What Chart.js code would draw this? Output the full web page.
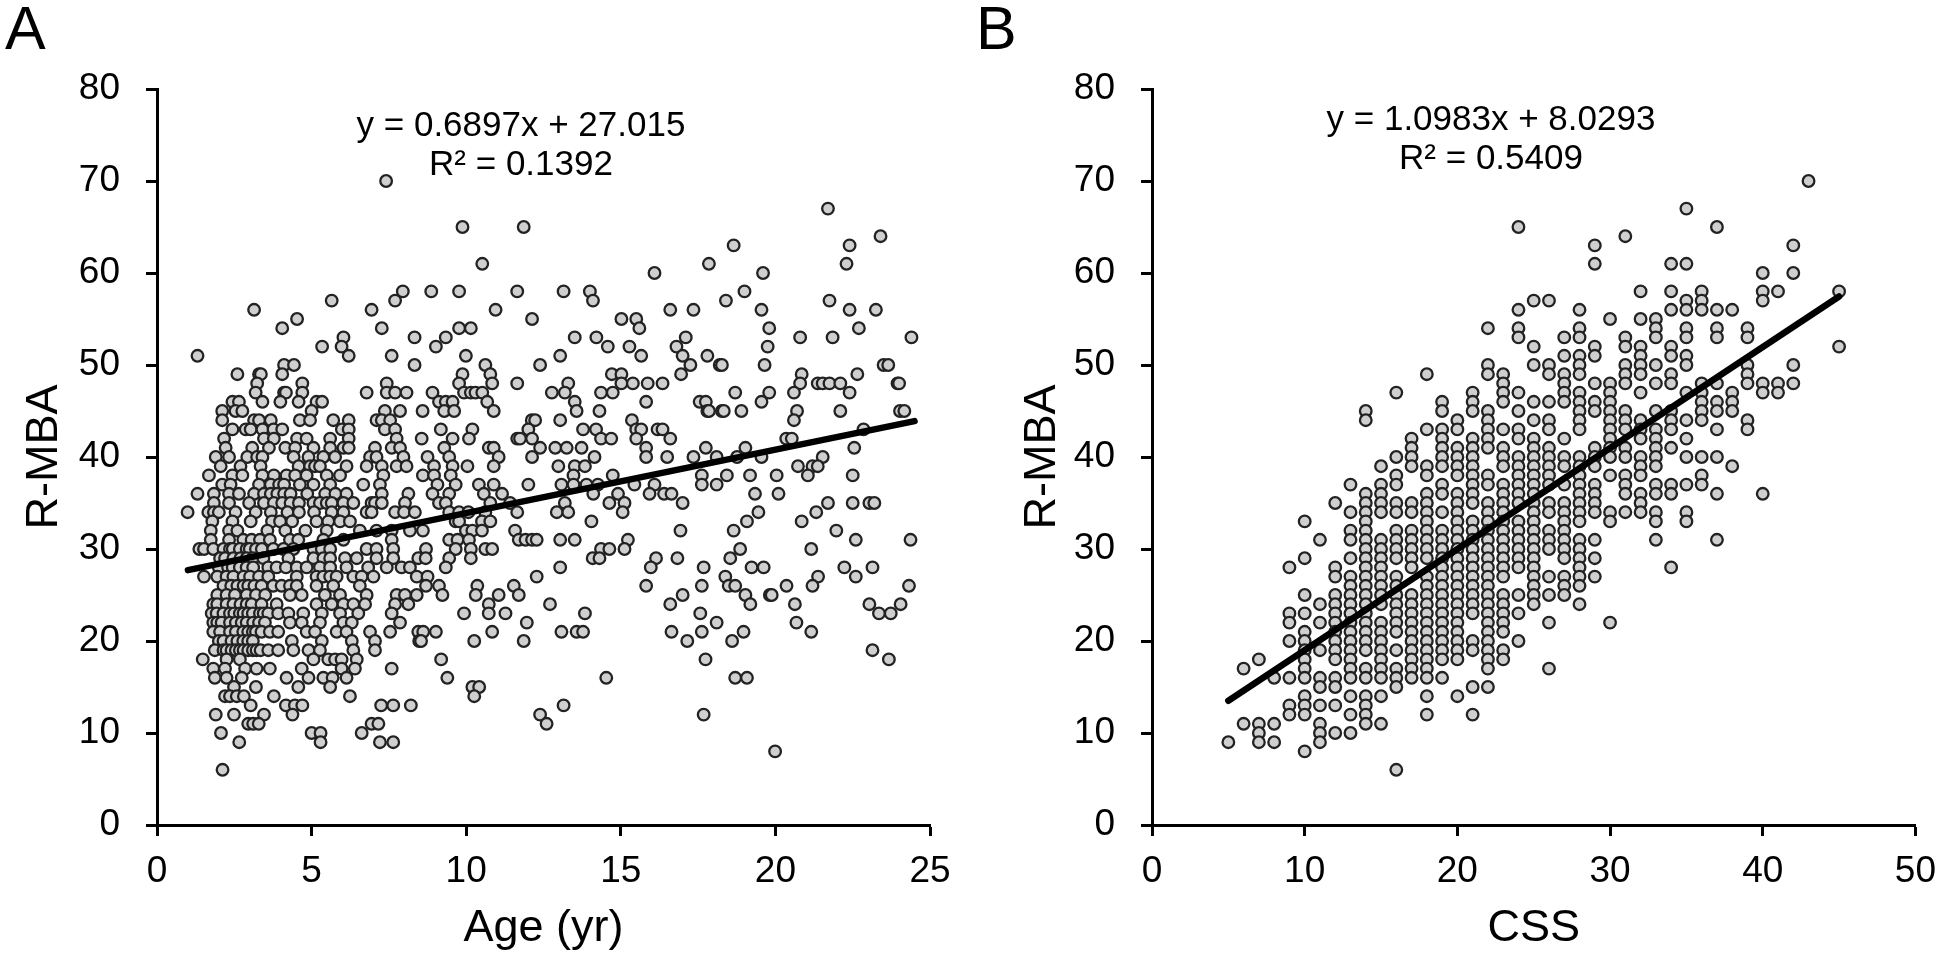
<!DOCTYPE html>
<html lang="en">

<head>
    <meta charset="UTF-8">
    <title>R-MBA scatter plots</title>
    <style>
        body {
            margin: 0;
            background-color: #fff;
            font-family: "Liberation Sans", Arial, sans-serif;
            color: #000;
        }

        .wrap {
            position: relative;
            width: 1950px;
            height: 958px;
            overflow: hidden;
        }

        canvas {
            position: absolute;
            top: 0;
        }

        #chartA { left: 0; }
        #chartB { left: 975px; }

        .panel {
            position: absolute;
            top: -7px;
            font-size: 61px;
            line-height: 70px;
        }

        .eq {
            position: absolute;
            width: 500px;
            text-align: center;
            font-size: 35px;
            line-height: 39px;
        }
    </style>
    <script src="https://cdn.jsdelivr.net/npm/chart.js"></script>
</head>

<body>
    <div class="wrap">
        <canvas id="chartA" width="975" height="958"></canvas>
        <canvas id="chartB" width="975" height="958"></canvas>
        <div class="panel" style="left:5px">A</div>
        <div class="panel" style="left:976px">B</div>
        <div class="eq" style="left:271px;top:104px">y = 0.6897x + 27.015<br>R² = 0.1392</div>
        <div class="eq" style="left:1241px;top:98px">y = 1.0983x + 8.0293<br>R² = 0.5409</div>
    </div>

    <script>
        const xTicksA = [0, 5, 10, 15, 20, 25];
        const xTicksB = [0, 10, 20, 30, 40, 50];
        const yTicks = [0, 10, 20, 30, 40, 50, 60, 70, 80];

        const levelsA = [70, 67, 65, 64, 63, 61, 60, 58, 57, 56, 55, 54, 53, 52, 51, 50, 49, 48, 47, 46, 45, 44, 43, 42, 41, 40, 39, 38, 37, 36, 35, 34, 33, 32, 31, 30, 29, 28, 27, 26, 25, 24, 23, 22, 21, 20, 19, 18, 17, 16, 15, 14, 13, 12, 11, 10, 9, 8, 6];
        const agesA = [
            [7.41],
            [21.7],
            [9.88, 11.86],
            [23.4],
            [18.65, 22.4],
            [10.52, 17.85, 22.3],
            [16.09, 19.6],
            [7.95, 8.87, 9.77, 11.65, 13.15, 14.0, 19.0],
            [5.65, 7.7, 14.1, 18.4, 21.75],
            [3.14, 6.94, 10.95, 16.6, 17.35, 19.55, 22.4, 23.25],
            [4.53, 12.13, 15.02, 15.5],
            [4.05, 7.27, 9.77, 10.15, 15.6, 19.8, 22.7],
            [6.03, 8.33, 9.34, 13.51, 14.21, 17.1, 20.8, 21.85, 24.4],
            [5.34, 5.97, 9.02, 14.58, 15.28, 16.8, 19.75],
            [1.31, 6.2, 7.59, 9.99, 13.04, 15.66, 17.0, 17.8],
            [4.11, 4.43, 8.33, 10.62, 12.39, 17.25, 18.2, 18.27, 19.65, 23.5, 23.65],
            [2.6, 3.3, 3.36, 4.05, 9.88, 10.78, 14.71, 15.02, 16.95, 20.85, 22.65],
            [3.24, 4.7, 7.43, 9.77, 10.84, 11.65, 13.3, 15.02, 15.39, 15.87, 16.35, 20.8, 21.37, 21.53, 21.75, 22.1, 23.95, 24.0],
            [3.19, 4.11, 4.17, 4.7, 6.78, 7.43, 7.7, 8.07, 8.91, 9.93, 10.15, 10.3, 10.52, 12.77, 13.19, 14.36, 14.74, 18.7, 19.8, 20.6, 22.4],
            [2.44, 2.65, 3.41, 3.99, 4.58, 5.16, 5.34, 9.12, 9.34, 9.56, 10.68, 13.51, 15.82, 17.55, 17.75, 19.55],
            [2.11, 2.54, 2.76, 5.0, 7.37, 7.86, 8.59, 9.29, 9.61, 10.89, 13.57, 14.31, 17.8, 17.85, 18.27, 18.33, 18.9, 20.7, 22.1, 24.03, 24.17],
            [2.11, 3.14, 3.3, 3.68, 4.62, 4.95, 5.7, 6.2, 7.1, 7.27, 7.54, 12.12, 12.23, 13.04, 15.36, 20.6],
            [2.44, 2.87, 3.03, 3.41, 3.77, 4.05, 5.98, 6.2, 7.37, 7.7, 9.18, 10.2, 12.01, 13.78, 14.2, 15.5, 15.66, 16.19, 16.35, 22.85],
            [2.17, 3.46, 3.78, 4.53, 4.84, 5.6, 6.2, 7.75, 8.56, 9.56, 10.09, 11.65, 11.74, 12.13, 14.36, 14.69, 15.5, 16.6, 20.35, 20.53],
            [2.22, 3.08, 3.62, 4.15, 4.47, 5.06, 5.6, 6.03, 6.2, 7.05, 7.59, 7.86, 9.29, 10.73, 10.89, 12.39, 12.88, 13.25, 13.73, 15.82, 17.75, 19.03, 22.55],
            [1.9, 2.33, 2.92, 3.24, 3.41, 4.42, 4.9, 5.38, 5.76, 6.89, 7.1, 7.97, 8.75, 9.45, 11.05, 12.13, 14.15, 15.82, 16.5, 17.35, 18.1, 18.76, 19.55, 21.53],
            [2.06, 2.7, 3.35, 4.58, 4.95, 5.11, 5.27, 6.13, 6.78, 7.27, 7.75, 8.07, 8.96, 9.56, 10.04, 10.89, 12.98, 13.51, 13.84, 20.73, 21.2, 21.37],
            [1.68, 2.44, 2.76, 3.41, 3.78, 4.19, 4.47, 4.84, 5.49, 5.92, 7.32, 8.6, 8.96, 9.5, 13.47, 14.74, 17.62, 18.43, 19.18, 20.04, 21.05, 22.5],
            [2.11, 2.38, 3.3, 3.68, 3.95, 4.11, 4.62, 5.06, 5.6, 6.67, 7.21, 9.07, 9.66, 10.41, 10.89, 12.01, 13.08, 13.47, 13.89, 14.26, 15.44, 16.09, 17.62, 18.1],
            [1.31, 1.84, 2.33, 2.65, 3.14, 3.46, 3.68, 3.89, 4.11, 4.32, 4.86, 5.44, 5.77, 6.13, 7.27, 8.13, 8.91, 9.45, 10.57, 11.16, 14.11, 14.91, 15.93, 16.4, 16.64, 19.34, 20.1],
            [1.84, 2.33, 2.98, 3.46, 3.78, 4.05, 4.32, 4.59, 5.06, 5.27, 5.49, 5.65, 6.03, 6.35, 6.94, 7.05, 7.27, 8.02, 9.12, 9.34, 10.78, 11.42, 13.19, 14.63, 15.12, 17.0, 21.7, 22.5, 23.04, 23.2],
            [0.99, 1.66, 1.84, 2.0, 2.54, 3.19, 3.68, 4.22, 4.59, 5.08, 5.65, 6.03, 6.78, 6.94, 7.7, 7.99, 8.34, 9.45, 9.77, 10.07, 10.62, 11.65, 12.93, 13.3, 15.06, 19.45, 21.32],
            [1.79, 2.44, 3.03, 3.72, 3.98, 4.37, 5.16, 5.54, 5.92, 6.24, 9.66, 9.77, 10.51, 10.78, 14.05, 19.08, 20.85],
            [1.74, 2.33, 2.6, 3.57, 4.15, 4.8, 5.49, 6.56, 7.1, 7.59, 8.18, 8.6, 9.99, 10.2, 10.51, 11.58, 16.93, 18.65, 21.97],
            [1.74, 2.33, 2.79, 3.06, 3.33, 3.65, 4.3, 4.57, 5.38, 6.03, 7.59, 9.45, 9.72, 10.09, 11.7, 11.92, 12.13, 12.28, 13.04, 13.51, 15.23, 22.6, 24.37],
            [1.37, 1.52, 1.82, 2.15, 2.36, 2.45, 2.68, 2.9, 3.0, 3.2, 3.39, 3.76, 4.09, 4.41, 5.06, 5.33, 5.6, 6.78, 7.1, 7.64, 8.7, 9.66, 10.15, 10.62, 10.84, 14.36, 14.63, 15.12, 18.86, 21.16],
            [2.04, 2.2, 2.47, 2.7, 2.9, 3.1, 3.44, 4.25, 5.06, 5.38, 5.6, 6.08, 6.46, 7.1, 7.64, 8.45, 8.69, 9.45, 10.15, 14.09, 14.31, 16.14, 16.83, 18.54],
            [2.0, 2.3, 2.45, 2.68, 2.9, 3.11, 3.6, 3.87, 4.17, 4.52, 4.84, 5.27, 5.6, 6.13, 6.83, 7.43, 7.91, 8.18, 9.34, 13.04, 15.97, 17.68, 19.23, 19.62, 22.23, 23.14],
            [1.52, 1.95, 2.25, 2.47, 2.8, 3.01, 3.3, 3.6, 4.52, 5.16, 5.38, 5.6, 5.81, 6.35, 6.62, 7.0, 8.4, 8.75, 12.28, 18.38, 21.38, 22.6],
            [2.15, 2.4, 2.6, 2.8, 2.95, 3.15, 3.38, 3.76, 4.03, 4.3, 4.52, 5.16, 5.7, 6.56, 8.7, 9.12, 10.36, 11.54, 15.82, 17.62, 18.49, 18.7, 20.36, 21.2, 24.32],
            [1.95, 2.25, 2.52, 2.9, 3.2, 3.5, 4.3, 4.68, 5.43, 5.92, 6.78, 7.75, 8.02, 8.4, 9.23, 10.31, 11.05, 11.7, 17.0, 19.03, 19.82, 19.88],
            [1.82, 1.95, 2.25, 2.47, 2.7, 2.9, 3.06, 3.38, 3.87, 5.16, 5.65, 6.03, 6.35, 6.73, 7.7, 8.13, 10.73, 12.71, 16.6, 19.19, 20.63, 23.04, 24.05],
            [1.77, 1.93, 2.15, 2.36, 2.5, 2.68, 2.8, 2.95, 3.1, 3.33, 3.45, 3.6, 3.92, 4.25, 4.73, 5.33, 5.92, 6.51, 7.59, 9.93, 10.73, 11.27, 13.84, 17.57, 23.35, 23.73],
            [1.82, 1.95, 2.09, 2.36, 2.55, 2.74, 2.9, 3.11, 3.3, 3.49, 4.3, 4.68, 5.27, 6.03, 6.3, 7.86, 11.96, 18.1, 20.68],
            [1.82, 2.04, 2.36, 2.55, 2.79, 2.95, 3.1, 3.2, 3.38, 3.65, 3.92, 4.84, 5.11, 5.81, 6.13, 6.89, 7.54, 8.45, 8.61, 9.02, 10.84, 13.08, 13.57, 13.78, 16.64, 17.62, 18.97, 21.16],
            [2.0, 2.15, 2.41, 2.6, 2.79, 2.95, 3.1, 4.36, 5.33, 6.3, 7.05, 8.48, 8.54, 10.26, 11.86, 17.15, 18.6],
            [1.87, 2.15, 2.25, 2.41, 2.55, 2.68, 2.8, 2.95, 3.1, 3.22, 3.35, 3.6, 3.92, 4.41, 4.9, 5.27, 6.35, 7.05, 23.14],
            [1.48, 2.25, 2.68, 5.06, 5.54, 5.76, 5.97, 6.46, 9.19, 17.74, 23.67],
            [1.82, 2.2, 2.85, 3.22, 3.65, 4.68, 5.97, 6.4, 7.59],
            [1.87, 2.25, 2.74, 4.19, 4.9, 5.38, 5.68, 6.13, 9.39, 14.53, 18.7, 19.08],
            [2.49, 3.2, 4.57, 5.6, 10.2, 10.42],
            [2.2, 2.36, 2.58, 2.81, 3.78, 6.24, 10.26],
            [3.03, 4.17, 4.46, 4.7, 7.25, 7.64, 8.21, 13.15],
            [1.9, 2.49, 3.46, 4.38, 12.39, 17.68],
            [2.95, 3.11, 3.29, 6.94, 7.16, 12.6],
            [2.07, 5.0, 5.29, 6.62],
            [2.66, 5.29, 7.21, 7.64],
            [19.99],
            [2.12]
        ];
        const trendXA = [1, 24.5];
        const trendYA = [27.7, 43.9];

        // panel B: CSS is whole numbers, so one list of R-MBA per CSS column
        const cssValues = [5, 6, 7, 8, 9, 10, 11, 12, 13, 14, 15, 16, 17, 18, 19, 20, 21, 22, 23, 24, 25, 26, 27, 28, 29, 30, 31, 32, 33, 34, 35, 36, 37, 38, 39, 40, 41, 42, 43, 45];
        const mbaByCss = [
            [9],
            [17, 11],
            [18, 11, 10, 9],
            [16, 11, 9],
            [28, 23, 22, 20, 16, 13, 12],
            [33, 29, 25, 23, 21, 20, 19, 18, 17, 16, 14, 13, 12, 8],
            [31, 24, 22, 19, 16, 15, 13, 11, 10, 9],
            [35, 28, 27, 25, 24, 23, 22, 21, 20, 19, 18, 16, 15, 13, 10],
            [37, 34, 32, 31, 29, 27, 26, 25, 24, 23, 22, 21, 20, 19, 18, 17, 16, 14, 12, 10],
            [45, 44, 36, 35, 34, 33, 32, 31, 30, 29, 28, 27, 26, 25, 24, 23, 22, 21, 20, 19, 17, 16, 14, 13, 12, 11],
            [39, 37, 36, 35, 34, 31, 30, 29, 28, 27, 26, 25, 24, 22, 21, 20, 19, 18, 17, 16, 14, 11],
            [47, 40, 38, 37, 35, 34, 32, 31, 30, 29, 27, 26, 25, 24, 23, 22, 21, 19, 17, 16, 15, 6],
            [42, 41, 40, 39, 35, 34, 32, 31, 30, 29, 28, 25, 24, 23, 22, 21, 20, 19, 18, 17, 16],
            [49, 43, 39, 38, 36, 35, 34, 33, 32, 31, 30, 29, 27, 26, 25, 24, 23, 22, 21, 20, 19, 18, 17, 16, 14, 12],
            [46, 45, 43, 42, 41, 40, 39, 37, 36, 34, 32, 31, 30, 29, 28, 27, 26, 25, 24, 23, 22, 21, 20, 19, 18, 16],
            [44, 43, 41, 40, 39, 38, 36, 35, 34, 33, 32, 31, 30, 29, 28, 27, 26, 25, 24, 23, 22, 21, 20, 19, 18, 14],
            [47, 46, 45, 42, 41, 40, 39, 38, 37, 36, 35, 33, 32, 31, 30, 29, 28, 27, 26, 25, 24, 23, 20, 19, 15, 12],
            [54, 50, 49, 45, 44, 43, 42, 41, 38, 37, 35, 34, 33, 32, 31, 30, 29, 28, 27, 26, 25, 24, 23, 22, 21, 20, 19, 18, 17, 15],
            [49, 48, 47, 46, 43, 41, 40, 39, 37, 36, 35, 34, 33, 32, 31, 30, 29, 28, 27, 25, 24, 23, 22, 21, 19, 18],
            [65, 56, 54, 53, 47, 45, 43, 42, 40, 39, 38, 37, 36, 35, 33, 32, 31, 30, 29, 28, 25, 23, 20],
            [57, 52, 50, 46, 44, 42, 41, 40, 39, 38, 37, 36, 35, 34, 33, 32, 31, 30, 29, 28, 27, 26, 25, 24],
            [57, 50, 49, 46, 44, 43, 41, 40, 39, 38, 37, 35, 34, 32, 31, 30, 27, 25, 22, 17],
            [53, 51, 49, 48, 47, 46, 42, 40, 39, 37, 35, 34, 33, 32, 31, 30, 29, 27, 26, 25],
            [56, 54, 53, 51, 50, 49, 47, 46, 45, 44, 43, 40, 39, 38, 37, 36, 35, 34, 33, 31, 30, 29, 28, 27, 26, 24],
            [63, 61, 52, 51, 48, 46, 45, 41, 40, 39, 37, 36, 35, 34, 31, 29, 27],
            [55, 48, 47, 46, 45, 44, 43, 42, 41, 40, 38, 34, 33, 22],
            [64, 53, 52, 50, 49, 48, 45, 44, 43, 41, 40, 38, 37, 36, 34],
            [58, 55, 52, 51, 50, 49, 47, 44, 43, 42, 40, 39, 38, 36, 35, 34],
            [55, 54, 53, 50, 48, 45, 43, 42, 41, 40, 39, 37, 36, 34, 33, 31],
            [61, 58, 56, 52, 51, 49, 48, 45, 44, 43, 41, 37, 36, 28],
            [67, 61, 57, 56, 54, 53, 51, 50, 47, 44, 42, 40, 37, 34, 33],
            [58, 57, 56, 48, 47, 46, 45, 44, 40, 38, 37],
            [65, 56, 54, 53, 48, 46, 45, 43, 40, 36, 31],
            [56, 47, 46, 45, 39],
            [54, 53, 50, 49, 48, 44, 43],
            [60, 58, 57, 48, 47, 36],
            [58, 48, 47],
            [63, 60, 50, 48],
            [70],
            [58, 52]
        ];
        const trendXB = [5, 45];
        const trendYB = [13.5, 57.45];

        const tickFont = { family: '"Liberation Sans", Arial, sans-serif', size: 37 };
        const titleFont = { family: '"Liberation Sans", Arial, sans-serif', size: 45 };

        function makeChart(id, cfg) {
            const axisLine = { display: true, color: '#000', width: 3 };
            const tickMarks = {
                drawOnChartArea: false,
                drawTicks: true,
                tickLength: 11,
                tickWidth: 3,
                tickColor: '#000'
            };
            return new Chart(document.getElementById(id), {
                type: 'scatter',
                data: {
                    datasets: [
                        {
                            data: cfg.trend,
                            showLine: true,
                            borderColor: '#000',
                            borderWidth: 6.5,
                            borderCapStyle: 'round',
                            pointRadius: 0,
                            order: 0
                        },
                        {
                            data: cfg.points,
                            backgroundColor: '#cfcfcf',
                            borderColor: '#222',
                            borderWidth: 2.3,
                            pointRadius: 5.8,
                            order: 1
                        }
                    ]
                },
                options: {
                    responsive: false,
                    animation: false,
                    layout: { autoPadding: false, padding: cfg.padding },
                    plugins: { legend: { display: false }, tooltip: { enabled: false } },
                    scales: {
                        x: {
                            type: 'linear',
                            min: cfg.xTicks[0],
                            max: cfg.xTicks[cfg.xTicks.length - 1],
                            afterFit: s => { s.height = 133; },
                            afterBuildTicks: s => { s.ticks = cfg.xTicks.map(v => ({ value: v })); },
                            border: axisLine,
                            grid: tickMarks,
                            ticks: { color: '#000', font: tickFont, padding: 14, maxRotation: 0 },
                            title: {
                                display: true,
                                text: cfg.xTitle,
                                color: '#000',
                                font: titleFont,
                                padding: { top: 0, bottom: 2 }
                            }
                        },
                        y: {
                            type: 'linear',
                            min: 0,
                            max: 80,
                            afterFit: s => { s.width = cfg.yAxisWidth; },
                            afterBuildTicks: s => { s.ticks = yTicks.map(v => ({ value: v })); },
                            border: axisLine,
                            grid: tickMarks,
                            ticks: { color: '#000', font: tickFont, padding: 26 },
                            title: {
                                display: true,
                                text: 'R-MBA',
                                color: '#000',
                                font: titleFont,
                                padding: { top: cfg.yTitleGap, bottom: 0 }
                            }
                        }
                    }
                }
            });
        }

        makeChart('chartA', {
            points: levelsA.flatMap((lvl, i) => agesA[i].map(a => ({ x: a, y: lvl }))),
            trend: trendXA.map((x, i) => ({ x: x, y: trendYA[i] })),
            xTicks: xTicksA,
            xTitle: 'Age (yr)',
            yAxisWidth: 157,
            yTitleGap: 18,
            padding: { top: 89, right: 45, bottom: 0, left: 0 }
        });

        makeChart('chartB', {
            points: cssValues.flatMap((c, i) => mbaByCss[i].map(m => ({ x: c, y: m }))),
            trend: trendXB.map((x, i) => ({ x: x, y: trendYB[i] })),
            xTicks: xTicksB,
            xTitle: 'CSS',
            yAxisWidth: 177,
            yTitleGap: 41,
            padding: { top: 89, right: 26, bottom: 0, left: 0 }
        });
    </script>
</body>

</html>
